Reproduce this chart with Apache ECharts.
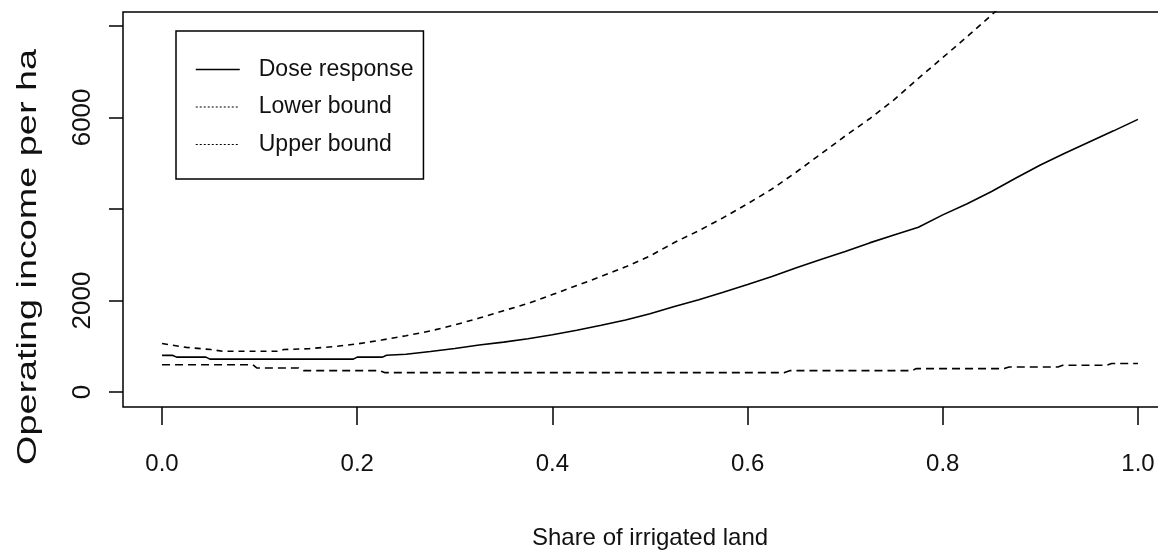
<!DOCTYPE html>
<html>
<head>
<meta charset="utf-8">
<script src="https://cdn.jsdelivr.net/npm/echarts@6.0.0/dist/echarts.min.js"></script>
<style>
html,body{margin:0;padding:0;background:#fff;}
#chart{width:1158px;height:552px;}
</style>
</head>
<body>
<div id="chart"></div>
<script>
// ---- data ----
const seriesNames = ['Dose response', 'Lower bound', 'Upper bound'];

const doseX = [0, 0.011, 0.015, 0.045, 0.049, 0.196, 0.2, 0.226, 0.23, 0.25, 0.275, 0.3, 0.325, 0.35, 0.375, 0.4,
  0.425, 0.45, 0.475, 0.5, 0.525, 0.55, 0.575, 0.6, 0.625, 0.65, 0.675, 0.7, 0.725, 0.75, 0.775, 0.8,
  0.825, 0.85, 0.875, 0.9, 0.925, 0.95, 0.975, 1.0];
const doseY = [799, 799, 762, 762, 718, 718, 762, 762, 802, 825, 885, 950, 1025, 1090, 1165, 1250,
  1350, 1460, 1575, 1710, 1870, 2015, 2180, 2350, 2522, 2715, 2895, 3070, 3258, 3430, 3600, 3870,
  4113, 4382, 4675, 4960, 5218, 5463, 5706, 5957];

const lowerX = [0, 0.093, 0.097, 0.14, 0.145, 0.223, 0.228, 0.638, 0.643, 0.768, 0.773, 0.863, 0.868,
  0.918, 0.923, 0.968, 0.973, 1.0];
const lowerY = [595, 595, 525, 525, 466, 466, 424, 424, 466, 466, 511, 511, 547, 547, 584, 584, 621, 621];

const upperX = [0, 0.025, 0.05, 0.062, 0.118, 0.125, 0.15, 0.175, 0.2, 0.225, 0.25, 0.275, 0.3, 0.325,
  0.35, 0.375, 0.4, 0.425, 0.45, 0.475, 0.5, 0.525, 0.55, 0.575, 0.6, 0.625, 0.65, 0.675, 0.7, 0.725,
  0.75, 0.775, 0.8, 0.825, 0.85, 0.875];
const upperY = [1058, 975, 927, 890, 890, 927, 945, 990, 1050, 1135, 1229, 1334, 1466, 1615,
  1776, 1935, 2128, 2327, 2525, 2734, 2973, 3266, 3525, 3809, 4113, 4435, 4807, 5198, 5594, 5970,
  6383, 6853, 7308, 7764, 8238, 8720];

const xTicks = [0, 0.2, 0.4, 0.6, 0.8, 1.0];
const yTicks = [0, 2000, 4000, 6000, 8000];
const yTickLabels = [0, 2000, 6000];

const xTitle = 'Share of irrigated land';
const yTitle = 'Operating income per ha';

// ---- chart ----
const pair = (xs, ys) => xs.map((x, i) => [x, ys[i]]);
const sans = "'Liberation Sans', Arial, sans-serif";

const chart = echarts.init(document.getElementById('chart'), null, {renderer: 'canvas'});
chart.setOption({
  animation: false,
  backgroundColor: '#ffffff',
  grid: {
    left: 123, top: 12, width: 1054, height: 395,
    outerBoundsMode: 'none',
    show: true, borderColor: '#000', borderWidth: 1.5, backgroundColor: 'transparent',
    containLabel: false
  },
  xAxis: {
    type: 'value', min: -0.04, max: 1.04,
    splitLine: {show: false},
    axisLine: {show: false, onZero: false},
    axisTick: {show: true, inside: false, length: 18, customValues: xTicks,
      lineStyle: {color: '#000', width: 1.5}},
    axisLabel: {show: true, customValues: xTicks, margin: 45,
      formatter: v => Number(v).toFixed(1),
      fontFamily: sans, fontSize: 24, color: '#111'},
    name: xTitle, nameLocation: 'middle', nameGap: 119,
    nameTextStyle: {fontFamily: sans, fontSize: 24, color: '#111'}
  },
  yAxis: {
    type: 'value', min: -328, max: 8303,
    splitLine: {show: false},
    axisLine: {show: false, onZero: false},
    axisTick: {show: true, inside: false, length: 14, customValues: yTicks,
      lineStyle: {color: '#000', width: 1.5}},
    axisLabel: {show: true, customValues: yTickLabels, rotate: 90, margin: 27,
      formatter: v => String(v),
      fontFamily: sans, fontSize: 26, color: '#111'}
  },
  legend: {
    orient: 'vertical', left: 176, top: 31,
    borderColor: '#000', borderWidth: 1.5, borderRadius: 0,
    padding: [25, 10, 21, 19],
    itemWidth: 44, itemHeight: 27, itemGap: 10.5,
    itemStyle: {opacity: 0},
    textStyle: {fontFamily: sans, fontSize: 23, color: '#111', padding: [0, 0, 0, 14], lineHeight: 27},
    data: [
      {name: seriesNames[0], lineStyle: {type: 'solid', width: 1.5, color: '#000'}},
      {name: seriesNames[1], lineStyle: {type: [2, 2], width: 1.2, color: '#000'}},
      {name: seriesNames[2], lineStyle: {type: [2, 2], width: 1.2, color: '#000'}}
    ]
  },
  graphic: [{
    type: 'text', x: 29, y: 257, rotation: Math.PI / 2, scaleX: 1.4, scaleY: 1,
    silent: true,
    style: {text: yTitle, fontFamily: sans, fontSize: 27,
      fill: '#111', textAlign: 'center', textVerticalAlign: 'middle'}
  }],
  series: [
    {name: seriesNames[0], type: 'line', data: pair(doseX, doseY), showSymbol: false, symbol: 'none',
      clip: true, lineStyle: {color: '#000', width: 1.6, type: 'solid'}, color: '#000'},
    {name: seriesNames[1], type: 'line', data: pair(lowerX, lowerY), showSymbol: false, symbol: 'none',
      clip: true, lineStyle: {color: '#000', width: 1.6, type: [8, 5]}, color: '#000'},
    {name: seriesNames[2], type: 'line', data: pair(upperX, upperY), showSymbol: false, symbol: 'none',
      clip: true, lineStyle: {color: '#000', width: 1.6, type: [6, 5]}, color: '#000'}
  ]
});
</script>
</body>
</html>
